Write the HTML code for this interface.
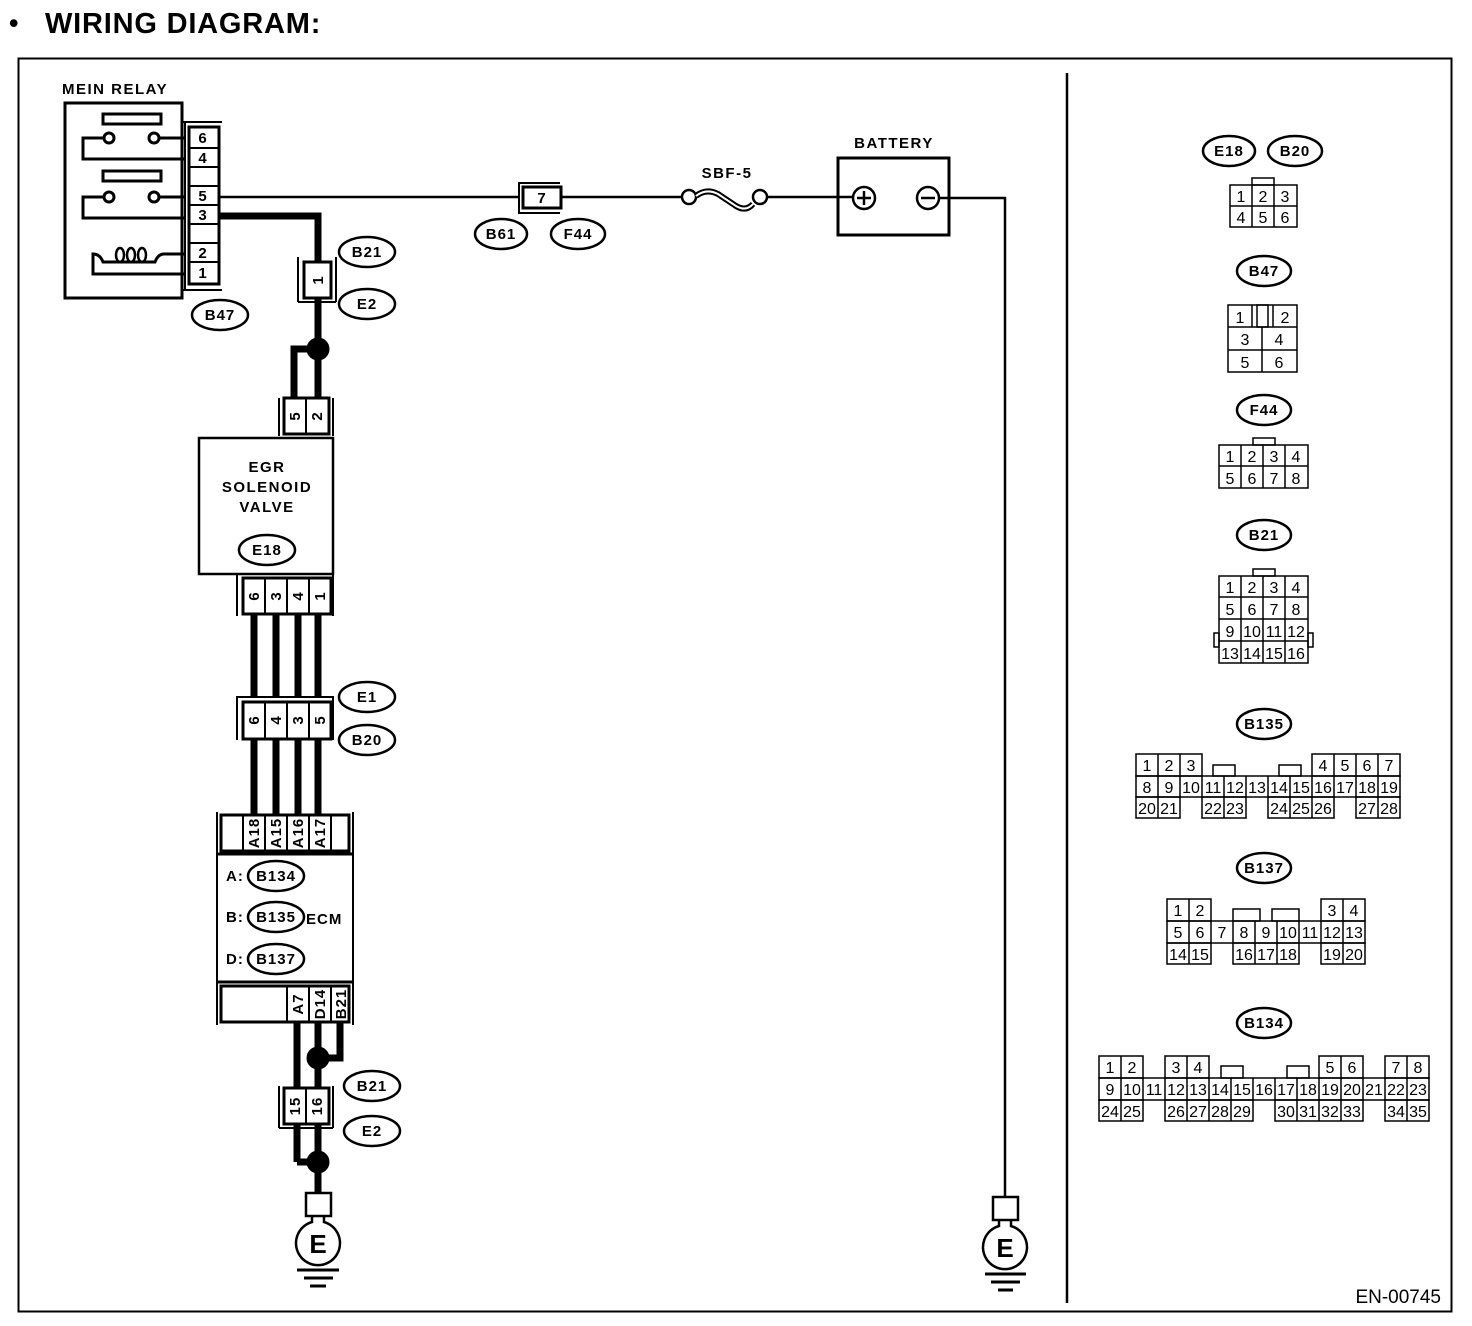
<!DOCTYPE html>
<html><head><meta charset="utf-8"><style>
html,body{margin:0;padding:0;background:#fff}
svg{display:block}
text{font-family:"Liberation Sans",sans-serif}
.b{font-weight:bold;font-size:15px;letter-spacing:1px}
.w{letter-spacing:1.5px}
.n{font-size:16px}
</style></head><body>
<svg width="1472" height="1326" viewBox="0 0 1472 1326" xmlns="http://www.w3.org/2000/svg">
<g fill="none" stroke="#000">
<text x="9" y="32" style="font-weight:bold;font-size:27px" fill="#000" stroke="none">•</text>
<text x="45" y="33" style="font-weight:bold;font-size:29px;letter-spacing:0.8px" fill="#000" stroke="none">WIRING DIAGRAM:</text>
<rect x="18.5" y="58.5" width="1433" height="1253" stroke-width="2"/>
<line x1="1067" y1="73" x2="1067" y2="1303" stroke-width="2.5"/>

<!-- Main relay -->
<text x="62" y="94" class="b w" fill="#000" stroke="none">MEIN RELAY</text>
<rect x="65" y="103" width="117" height="195" stroke-width="3"/>
<line x1="182" y1="122" x2="222" y2="122" stroke-width="2"/>
<line x1="182" y1="290" x2="222" y2="290" stroke-width="2"/>
<line x1="185" y1="122" x2="185" y2="290" stroke-width="2"/>
<rect x="189" y="127" width="30" height="157" stroke-width="3"/>
<g stroke-width="2"><line x1="189" y1="148" x2="219" y2="148"/><line x1="189" y1="167" x2="219" y2="167"/><line x1="189" y1="186" x2="219" y2="186"/><line x1="189" y1="205" x2="219" y2="205"/><line x1="189" y1="224" x2="219" y2="224"/><line x1="189" y1="243" x2="219" y2="243"/><line x1="189" y1="262" x2="219" y2="262"/></g>
<g class="b" fill="#000" stroke="none" text-anchor="middle"><text x="203" y="143">6</text><text x="203" y="163">4</text><text x="203" y="201">5</text><text x="203" y="220">3</text><text x="203" y="258">2</text><text x="203" y="278">1</text></g>
<rect x="103" y="114" width="58" height="10" stroke-width="3"/>
<rect x="103" y="171" width="58" height="10" stroke-width="3"/>
<g stroke-width="3">
<circle cx="109" cy="138" r="5"/><circle cx="154" cy="138" r="5"/>
<polyline points="104,138 83,138 83,159 185,159"/><line x1="159" y1="138" x2="185" y2="138"/>
<circle cx="109" cy="197" r="5"/><circle cx="154" cy="197" r="5"/>
<polyline points="104,197 83,197 83,218 185,218"/><line x1="159" y1="197" x2="185" y2="197"/>
<path d="M185,254 H164 Q158,254 155,262 H103 Q100,254 93,254 V274 H185"/>
<ellipse cx="120" cy="255" rx="4" ry="7" stroke-width="2.5"/>
<ellipse cx="131" cy="255" rx="4" ry="7" stroke-width="2.5"/>
<ellipse cx="142" cy="255" rx="4" ry="7" stroke-width="2.5"/>
</g>
<ellipse cx="220" cy="315" rx="28" ry="15" stroke-width="2.5"/><text x="220" y="320" class="b" fill="#000" stroke="none" text-anchor="middle">B47</text>

<!-- wire 5 -->
<line x1="219" y1="197" x2="518" y2="197" stroke-width="2.5"/>
<rect x="518" y="182" width="42" height="2" fill="#000" stroke="none"/>
<line x1="519" y1="182" x2="519" y2="213" stroke-width="2"/>
<line x1="518" y1="213" x2="560" y2="213" stroke-width="2"/>
<rect x="523" y="187" width="38" height="21" stroke-width="3"/>
<text x="542" y="203" class="b" fill="#000" stroke="none" text-anchor="middle">7</text>
<ellipse cx="501" cy="234" rx="26" ry="15" stroke-width="2.5"/><text x="501" y="239" class="b" fill="#000" stroke="none" text-anchor="middle">B61</text>
<ellipse cx="578" cy="234" rx="27" ry="15" stroke-width="2.5"/><text x="578" y="239" class="b" fill="#000" stroke="none" text-anchor="middle">F44</text>
<line x1="561" y1="197" x2="682" y2="197" stroke-width="2.5"/>
<circle cx="689" cy="197" r="7" stroke-width="2.5"/><circle cx="760" cy="197" r="7" stroke-width="2.5"/>
<path d="M696,196 q10,-8 22,-2 q12,8 18,12 q10,6 17,-2" stroke-width="6"/>
<path d="M696,196 q10,-8 22,-2 q12,8 18,12 q10,6 17,-2" stroke="#fff" stroke-width="2"/>
<text x="727" y="178" class="b w" fill="#000" stroke="none" text-anchor="middle">SBF-5</text>
<line x1="767" y1="197" x2="853" y2="197" stroke-width="2.5"/>
<text x="894" y="148" class="b w" fill="#000" stroke="none" text-anchor="middle">BATTERY</text>
<rect x="838" y="158" width="111" height="77" stroke-width="3"/>
<circle cx="864" cy="198" r="11" stroke-width="2.5"/><line x1="857" y1="198" x2="871" y2="198" stroke-width="2.5"/><line x1="864" y1="191" x2="864" y2="205" stroke-width="2.5"/>
<circle cx="928" cy="198" r="11" stroke-width="2.5"/><line x1="921" y1="198" x2="935" y2="198" stroke-width="2.5"/>
<polyline points="939,198 1005,198 1005,1197" stroke-width="2.5"/>
<rect x="993" y="1197" width="25" height="23" stroke-width="2.5"/>
<path d="M999,1220 v6 a22,22 0 1 0 12,0 v-6" stroke-width="2.5"/>
<text x="1005" y="1257" style="font-weight:bold;font-size:26px" fill="#000" stroke="none" text-anchor="middle">E</text>
<g stroke-width="3"><line x1="985" y1="1274" x2="1026" y2="1274"/><line x1="991" y1="1282" x2="1020" y2="1282"/><line x1="998" y1="1290" x2="1013" y2="1290"/></g>

<!-- wire 3 thick -->
<polyline points="219,216 318,216 318,262" stroke-width="7"/>
<line x1="298" y1="257" x2="298" y2="302" stroke-width="2"/><line x1="336" y1="257" x2="336" y2="302" stroke-width="2"/>
<line x1="298" y1="302" x2="336" y2="302" stroke-width="2"/>
<rect x="304" y="262" width="27" height="36" stroke-width="3"/>
<text transform="translate(323,280) rotate(-90)" class="b" fill="#000" stroke="none" text-anchor="middle">1</text>
<ellipse cx="367" cy="252" rx="28" ry="15" stroke-width="2.5"/><text x="367" y="257" class="b" fill="#000" stroke="none" text-anchor="middle">B21</text>
<ellipse cx="367" cy="304" rx="28" ry="15" stroke-width="2.5"/><text x="367" y="309" class="b" fill="#000" stroke="none" text-anchor="middle">E2</text>
<line x1="318" y1="298" x2="318" y2="398" stroke-width="7"/>
<polyline points="318,349 294,349 294,398" stroke-width="7"/>
<circle cx="318" cy="349" r="11" fill="#000"/>
<polyline points="279,436 279,398" stroke-width="2"/><polyline points="333,436 333,398" stroke-width="2"/>
<rect x="284" y="398" width="45" height="36" stroke-width="3"/><line x1="306" y1="398" x2="306" y2="434" stroke-width="2"/>
<text transform="translate(300,416) rotate(-90)" class="b" fill="#000" stroke="none" text-anchor="middle">5</text>
<text transform="translate(322,416) rotate(-90)" class="b" fill="#000" stroke="none" text-anchor="middle">2</text>

<!-- EGR -->
<rect x="199" y="438" width="134" height="136" stroke-width="2.5"/>
<g class="b w" fill="#000" stroke="none" text-anchor="middle"><text x="267" y="472">EGR</text><text x="267" y="492">SOLENOID</text><text x="267" y="512">VALVE</text></g>
<ellipse cx="267" cy="550" rx="28" ry="15" stroke-width="2.5"/><text x="267" y="555" class="b" fill="#000" stroke="none" text-anchor="middle">E18</text>
<line x1="237" y1="574" x2="237" y2="616" stroke-width="2"/><line x1="333" y1="574" x2="333" y2="616" stroke-width="2"/>
<rect x="243" y="578" width="88" height="36" stroke-width="3"/>
<g stroke-width="2"><line x1="265" y1="578" x2="265" y2="614"/><line x1="287" y1="578" x2="287" y2="614"/><line x1="309" y1="578" x2="309" y2="614"/></g>
<g class="b" fill="#000" stroke="none" text-anchor="middle">
<text transform="translate(259,596) rotate(-90)">6</text><text transform="translate(281,596) rotate(-90)">3</text><text transform="translate(303,596) rotate(-90)">4</text><text transform="translate(325,596) rotate(-90)">1</text></g>
<g stroke-width="7"><line x1="254" y1="614" x2="254" y2="815"/><line x1="276" y1="614" x2="276" y2="815"/><line x1="298" y1="614" x2="298" y2="815"/><line x1="318" y1="614" x2="318" y2="815"/></g>
<!-- E1/B20 -->
<polyline points="237,740 237,697 333,697 333,740" stroke-width="2" fill="#fff"/>
<rect x="243" y="702" width="88" height="37" stroke-width="3" fill="#fff"/>
<g stroke-width="2"><line x1="265" y1="702" x2="265" y2="739"/><line x1="287" y1="702" x2="287" y2="739"/><line x1="309" y1="702" x2="309" y2="739"/></g>
<g class="b" fill="#000" stroke="none" text-anchor="middle">
<text transform="translate(259,720) rotate(-90)">6</text><text transform="translate(281,720) rotate(-90)">4</text><text transform="translate(303,720) rotate(-90)">3</text><text transform="translate(325,720) rotate(-90)">5</text></g>
<ellipse cx="367" cy="697" rx="28" ry="15" stroke-width="2.5"/><text x="367" y="702" class="b" fill="#000" stroke="none" text-anchor="middle">E1</text>
<ellipse cx="367" cy="740" rx="28" ry="15" stroke-width="2.5"/><text x="367" y="745" class="b" fill="#000" stroke="none" text-anchor="middle">B20</text>

<!-- ECM -->
<line x1="217" y1="812" x2="217" y2="1025" stroke-width="2"/><line x1="353" y1="812" x2="353" y2="1025" stroke-width="2"/>
<rect x="221" y="815" width="128" height="36" stroke-width="3" fill="#fff"/>
<g stroke-width="2"><line x1="243" y1="815" x2="243" y2="851"/><line x1="265" y1="815" x2="265" y2="851"/><line x1="287" y1="815" x2="287" y2="851"/><line x1="309" y1="815" x2="309" y2="851"/><line x1="331" y1="815" x2="331" y2="851"/></g>
<g class="b" fill="#000" stroke="none" text-anchor="middle">
<text transform="translate(259,833) rotate(-90)">A18</text><text transform="translate(281,833) rotate(-90)">A15</text><text transform="translate(303,833) rotate(-90)">A16</text><text transform="translate(325,833) rotate(-90)">A17</text></g>
<line x1="217" y1="854" x2="353" y2="854" stroke-width="3"/>
<line x1="217" y1="982" x2="353" y2="982" stroke-width="3"/>
<g class="b" fill="#000" stroke="none"><text x="226" y="881">A:</text><text x="226" y="922">B:</text><text x="226" y="964">D:</text><text x="306" y="924">ECM</text></g>
<ellipse cx="276" cy="876" rx="28" ry="15" stroke-width="2.5"/><text x="276" y="881" class="b" fill="#000" stroke="none" text-anchor="middle">B134</text>
<ellipse cx="276" cy="917" rx="28" ry="15" stroke-width="2.5"/><text x="276" y="922" class="b" fill="#000" stroke="none" text-anchor="middle">B135</text>
<ellipse cx="276" cy="959" rx="28" ry="15" stroke-width="2.5"/><text x="276" y="964" class="b" fill="#000" stroke="none" text-anchor="middle">B137</text>
<rect x="221" y="986" width="128" height="36" stroke-width="3"/>
<g stroke-width="2"><line x1="287" y1="986" x2="287" y2="1022"/><line x1="309" y1="986" x2="309" y2="1022"/><line x1="331" y1="986" x2="331" y2="1022"/></g>
<g class="b" fill="#000" stroke="none" text-anchor="middle">
<text transform="translate(303,1004) rotate(-90)">A7</text><text transform="translate(325,1004) rotate(-90)">D14</text><text transform="translate(346,1004) rotate(-90)">B21</text></g>
<g stroke-width="7">
<line x1="297" y1="1022" x2="297" y2="1162"/>
<line x1="318" y1="1022" x2="318" y2="1195"/>
<polyline points="340,1022 340,1058 318,1058"/>
<polyline points="297,1162 318,1162"/>
</g>
<circle cx="318" cy="1058" r="11" fill="#000"/>
<circle cx="318" cy="1162" r="11" fill="#000"/>
<polyline points="279,1128 279,1086" stroke-width="2"/><polyline points="333,1128 333,1086" stroke-width="2"/>
<line x1="279" y1="1128" x2="333" y2="1128" stroke-width="2"/>
<rect x="284" y="1088" width="45" height="36" stroke-width="3" fill="#fff"/><line x1="306" y1="1088" x2="306" y2="1124" stroke-width="2"/>
<text transform="translate(300,1106) rotate(-90)" class="b" fill="#000" stroke="none" text-anchor="middle">15</text>
<text transform="translate(322,1106) rotate(-90)" class="b" fill="#000" stroke="none" text-anchor="middle">16</text>
<ellipse cx="372" cy="1086" rx="28" ry="15" stroke-width="2.5"/><text x="372" y="1091" class="b" fill="#000" stroke="none" text-anchor="middle">B21</text>
<ellipse cx="372" cy="1131" rx="28" ry="15" stroke-width="2.5"/><text x="372" y="1136" class="b" fill="#000" stroke="none" text-anchor="middle">E2</text>
<rect x="306" y="1193" width="25" height="23" stroke-width="2.5" fill="#fff"/>
<path d="M312,1216 v6 a22,22 0 1 0 12,0 v-6" stroke-width="2.5"/>
<text x="318" y="1253" style="font-weight:bold;font-size:26px" fill="#000" stroke="none" text-anchor="middle">E</text>
<g stroke-width="3"><line x1="297" y1="1270" x2="339" y2="1270"/><line x1="304" y1="1278" x2="333" y2="1278"/><line x1="310" y1="1286" x2="326" y2="1286"/></g>

<text x="1441" y="1303" style="font-size:19px" fill="#000" stroke="none" text-anchor="end">EN-00745</text>

<!-- right column -->
<g stroke-width="2.5">
<ellipse cx="1229" cy="151" rx="26" ry="15"/><ellipse cx="1295" cy="151" rx="27" ry="15"/>
<ellipse cx="1264" cy="271" rx="27" ry="15"/><ellipse cx="1264" cy="410" rx="27" ry="15"/>
<ellipse cx="1264" cy="535" rx="27" ry="15"/><ellipse cx="1264" cy="724" rx="27" ry="15"/>
<ellipse cx="1264" cy="868" rx="27" ry="15"/><ellipse cx="1264" cy="1023" rx="27" ry="15"/>
</g>
<g class="b" fill="#000" stroke="none" text-anchor="middle">
<text x="1229" y="156">E18</text><text x="1295" y="156">B20</text><text x="1264" y="276">B47</text><text x="1264" y="415">F44</text>
<text x="1264" y="540">B21</text><text x="1264" y="729">B135</text><text x="1264" y="873">B137</text><text x="1264" y="1028">B134</text></g>

<g stroke-width="1.5">
<rect x="1252" y="178" width="22" height="7"/>
<rect x="1230" y="185" width="67" height="42"/><line x1="1230" y1="206" x2="1297" y2="206"/><line x1="1252" y1="185" x2="1252" y2="227"/><line x1="1274" y1="185" x2="1274" y2="227"/>
<rect x="1228" y="305" width="69" height="67"/><line x1="1228" y1="327" x2="1297" y2="327"/><line x1="1228" y1="350" x2="1297" y2="350"/><line x1="1262" y1="327" x2="1262" y2="372"/>
<line x1="1252" y1="305" x2="1252" y2="327"/><line x1="1273" y1="305" x2="1273" y2="327"/><rect x="1257" y="305" width="11" height="22"/>
<rect x="1253" y="438" width="22" height="7"/>
<rect x="1219" y="445" width="89" height="43"/><line x1="1219" y1="466" x2="1308" y2="466"/><line x1="1241" y1="445" x2="1241" y2="488"/><line x1="1263" y1="445" x2="1263" y2="488"/><line x1="1285" y1="445" x2="1285" y2="488"/>
<rect x="1253" y="569" width="22" height="7"/>
<rect x="1219" y="576" width="89" height="87"/><line x1="1219" y1="597" x2="1308" y2="597"/><line x1="1219" y1="619" x2="1308" y2="619"/><line x1="1219" y1="641" x2="1308" y2="641"/>
<line x1="1241" y1="576" x2="1241" y2="663"/><line x1="1263" y1="576" x2="1263" y2="663"/><line x1="1285" y1="576" x2="1285" y2="663"/>
<rect x="1214" y="633" width="5" height="14"/><rect x="1308" y="633" width="5" height="14"/>
</g>
<g class="n" fill="#000" stroke="none" text-anchor="middle">
<text x="1241" y="202">1</text><text x="1263" y="202">2</text><text x="1285" y="202">3</text><text x="1241" y="223">4</text><text x="1263" y="223">5</text><text x="1285" y="223">6</text>
<text x="1240" y="323">1</text><text x="1285" y="323">2</text><text x="1245" y="345">3</text><text x="1279" y="345">4</text><text x="1245" y="368">5</text><text x="1279" y="368">6</text>
<text x="1230" y="462">1</text><text x="1252" y="462">2</text><text x="1274" y="462">3</text><text x="1296" y="462">4</text>
<text x="1230" y="484">5</text><text x="1252" y="484">6</text><text x="1274" y="484">7</text><text x="1296" y="484">8</text>
<text x="1230" y="593">1</text><text x="1252" y="593">2</text><text x="1274" y="593">3</text><text x="1296" y="593">4</text>
<text x="1230" y="615">5</text><text x="1252" y="615">6</text><text x="1274" y="615">7</text><text x="1296" y="615">8</text>
<text x="1230" y="637">9</text><text x="1252" y="637">10</text><text x="1274" y="637">11</text><text x="1296" y="637">12</text>
<text x="1230" y="659">13</text><text x="1252" y="659">14</text><text x="1274" y="659">15</text><text x="1296" y="659">16</text>
</g>

<g stroke-width="1.5">
<rect x="1213" y="765" width="22" height="11"/><rect x="1279" y="765" width="22" height="11"/>
<rect x="1136" y="754" width="66" height="22"/><line x1="1158" y1="754" x2="1158" y2="776"/><line x1="1180" y1="754" x2="1180" y2="776"/>
<rect x="1312" y="754" width="88" height="22"/><line x1="1334" y1="754" x2="1334" y2="776"/><line x1="1356" y1="754" x2="1356" y2="776"/><line x1="1378" y1="754" x2="1378" y2="776"/>
<rect x="1136" y="776" width="264" height="21"/>
<line x1="1158" y1="776" x2="1158" y2="818"/><line x1="1180" y1="776" x2="1180" y2="797"/><line x1="1202" y1="776" x2="1202" y2="797"/><line x1="1224" y1="776" x2="1224" y2="818"/><line x1="1246" y1="776" x2="1246" y2="797"/><line x1="1268" y1="776" x2="1268" y2="797"/><line x1="1290" y1="776" x2="1290" y2="818"/><line x1="1312" y1="776" x2="1312" y2="818"/><line x1="1334" y1="776" x2="1334" y2="797"/><line x1="1356" y1="776" x2="1356" y2="797"/><line x1="1378" y1="776" x2="1378" y2="818"/>
<rect x="1136" y="797" width="44" height="21"/><rect x="1202" y="797" width="44" height="21"/><rect x="1268" y="797" width="66" height="21"/><rect x="1356" y="797" width="44" height="21"/>
</g>
<g class="n" fill="#000" stroke="none" text-anchor="middle">
<text x="1147" y="771">1</text><text x="1169" y="771">2</text><text x="1191" y="771">3</text><text x="1323" y="771">4</text><text x="1345" y="771">5</text><text x="1367" y="771">6</text><text x="1389" y="771">7</text>
<text x="1147" y="793">8</text><text x="1169" y="793">9</text><text x="1191" y="793">10</text><text x="1213" y="793">11</text><text x="1235" y="793">12</text><text x="1257" y="793">13</text><text x="1279" y="793">14</text><text x="1301" y="793">15</text><text x="1323" y="793">16</text><text x="1345" y="793">17</text><text x="1367" y="793">18</text><text x="1389" y="793">19</text>
<text x="1147" y="814">20</text><text x="1169" y="814">21</text><text x="1213" y="814">22</text><text x="1235" y="814">23</text><text x="1279" y="814">24</text><text x="1301" y="814">25</text><text x="1323" y="814">26</text><text x="1367" y="814">27</text><text x="1389" y="814">28</text>
</g>

<g stroke-width="1.5">
<rect x="1233" y="909" width="27" height="12"/><rect x="1272" y="909" width="27" height="12"/>
<rect x="1167" y="899" width="44" height="22"/><line x1="1189" y1="899" x2="1189" y2="921"/>
<rect x="1321" y="899" width="44" height="22"/><line x1="1343" y1="899" x2="1343" y2="921"/>
<rect x="1167" y="921" width="198" height="22"/>
<line x1="1189" y1="921" x2="1189" y2="964"/><line x1="1211" y1="921" x2="1211" y2="943"/><line x1="1233" y1="921" x2="1233" y2="943"/><line x1="1255" y1="921" x2="1255" y2="964"/><line x1="1277" y1="921" x2="1277" y2="964"/><line x1="1299" y1="921" x2="1299" y2="943"/><line x1="1321" y1="921" x2="1321" y2="943"/><line x1="1343" y1="921" x2="1343" y2="964"/>
<rect x="1167" y="943" width="44" height="21"/><rect x="1233" y="943" width="66" height="21"/><rect x="1321" y="943" width="44" height="21"/>
</g>
<g class="n" fill="#000" stroke="none" text-anchor="middle">
<text x="1178" y="916">1</text><text x="1200" y="916">2</text><text x="1332" y="916">3</text><text x="1354" y="916">4</text>
<text x="1178" y="938">5</text><text x="1200" y="938">6</text><text x="1222" y="938">7</text><text x="1244" y="938">8</text><text x="1266" y="938">9</text><text x="1288" y="938">10</text><text x="1310" y="938">11</text><text x="1332" y="938">12</text><text x="1354" y="938">13</text>
<text x="1178" y="960">14</text><text x="1200" y="960">15</text><text x="1244" y="960">16</text><text x="1266" y="960">17</text><text x="1288" y="960">18</text><text x="1332" y="960">19</text><text x="1354" y="960">20</text>
</g>

<g stroke-width="1.5">
<rect x="1221" y="1066" width="22" height="12"/><rect x="1287" y="1066" width="22" height="12"/>
<rect x="1099" y="1056" width="44" height="22"/><line x1="1121" y1="1056" x2="1121" y2="1078"/>
<rect x="1165" y="1056" width="44" height="22"/><line x1="1187" y1="1056" x2="1187" y2="1078"/>
<rect x="1319" y="1056" width="44" height="22"/><line x1="1341" y1="1056" x2="1341" y2="1078"/>
<rect x="1385" y="1056" width="44" height="22"/><line x1="1407" y1="1056" x2="1407" y2="1078"/>
<rect x="1099" y="1078" width="330" height="22"/>
<line x1="1121" y1="1078" x2="1121" y2="1121"/><line x1="1143" y1="1078" x2="1143" y2="1100"/><line x1="1165" y1="1078" x2="1165" y2="1100"/><line x1="1187" y1="1078" x2="1187" y2="1121"/><line x1="1209" y1="1078" x2="1209" y2="1121"/><line x1="1231" y1="1078" x2="1231" y2="1121"/><line x1="1253" y1="1078" x2="1253" y2="1100"/><line x1="1275" y1="1078" x2="1275" y2="1100"/><line x1="1297" y1="1078" x2="1297" y2="1121"/><line x1="1319" y1="1078" x2="1319" y2="1121"/><line x1="1341" y1="1078" x2="1341" y2="1121"/><line x1="1363" y1="1078" x2="1363" y2="1100"/><line x1="1385" y1="1078" x2="1385" y2="1100"/><line x1="1407" y1="1078" x2="1407" y2="1121"/>
<rect x="1099" y="1100" width="44" height="21"/><rect x="1165" y="1100" width="88" height="21"/><rect x="1275" y="1100" width="88" height="21"/><rect x="1385" y="1100" width="44" height="21"/>
</g>
<g class="n" fill="#000" stroke="none" text-anchor="middle">
<text x="1110" y="1073">1</text><text x="1132" y="1073">2</text><text x="1176" y="1073">3</text><text x="1198" y="1073">4</text><text x="1330" y="1073">5</text><text x="1352" y="1073">6</text><text x="1396" y="1073">7</text><text x="1418" y="1073">8</text>
<text x="1110" y="1095">9</text><text x="1132" y="1095">10</text><text x="1154" y="1095">11</text><text x="1176" y="1095">12</text><text x="1198" y="1095">13</text><text x="1220" y="1095">14</text><text x="1242" y="1095">15</text><text x="1264" y="1095">16</text><text x="1286" y="1095">17</text><text x="1308" y="1095">18</text><text x="1330" y="1095">19</text><text x="1352" y="1095">20</text><text x="1374" y="1095">21</text><text x="1396" y="1095">22</text><text x="1418" y="1095">23</text>
<text x="1110" y="1117">24</text><text x="1132" y="1117">25</text><text x="1176" y="1117">26</text><text x="1198" y="1117">27</text><text x="1220" y="1117">28</text><text x="1242" y="1117">29</text><text x="1286" y="1117">30</text><text x="1308" y="1117">31</text><text x="1330" y="1117">32</text><text x="1352" y="1117">33</text><text x="1396" y="1117">34</text><text x="1418" y="1117">35</text>
</g>
</g>
</svg>
</body></html>
